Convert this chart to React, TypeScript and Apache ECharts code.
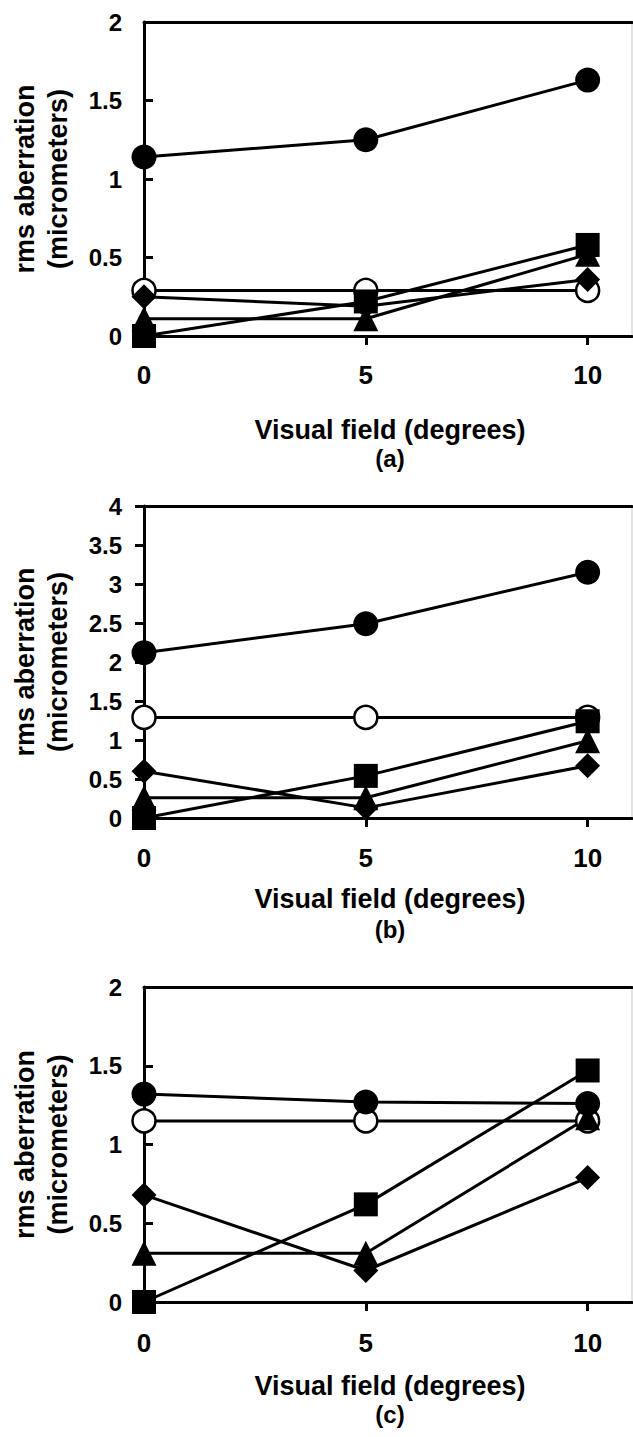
import React, { useEffect, useRef } from "react";
import * as echarts from "echarts";

// ---- data ----
const xValues = [0, 5, 10];
const xTickValues = [0, 5, 10];

// Panel (a)
const aFilledCircle = [1.14, 1.25, 1.63];
const aOpenCircle = [0.29, 0.29, 0.29];
const aSquare = [0, 0.22, 0.58];
const aTriangle = [0.11, 0.11, 0.52];
const aDiamond = [0.25, 0.19, 0.36];

// Panel (b)
const bFilledCircle = [2.12, 2.49, 3.15];
const bOpenCircle = [1.29, 1.29, 1.29];
const bSquare = [0, 0.54, 1.24];
const bTriangle = [0.26, 0.26, 0.99];
const bDiamond = [0.6, 0.13, 0.67];

// Panel (c)
const cFilledCircle = [1.32, 1.27, 1.26];
const cOpenCircle = [1.15, 1.15, 1.15];
const cSquare = [0, 0.62, 1.47];
const cTriangle = [0.31, 0.31, 1.17];
const cDiamond = [0.68, 0.2, 0.79];

const panelLabels = ["(a)", "(b)", "(c)"];
const yMax = [2, 4, 2];
const yTicksInside = [true, false, true];
const xTitle = "Visual field (degrees)";
const yTitle1 = "rms aberration";
const yTitle2 = "(micrometers)";

const FONT = '"Liberation Sans", Arial, Helvetica, sans-serif';

const panels = [
  { filled: aFilledCircle, open: aOpenCircle, square: aSquare, tri: aTriangle, dia: aDiamond },
  { filled: bFilledCircle, open: bOpenCircle, square: bSquare, tri: bTriangle, dia: bDiamond },
  { filled: cFilledCircle, open: cOpenCircle, square: cSquare, tri: cTriangle, dia: cDiamond },
];

// layout (pixels)
const grids = [
  { top: 22, height: 314 },
  { top: 506, height: 312 },
  { top: 987, height: 315 },
];
const xTitleY = [430, 899, 1386];
const panelLabelY = [458, 929, 1414];
const xLabelMargin = [26, 27, 28];

export default function App() {
  const ref = useRef<HTMLDivElement>(null);

  useEffect(() => {
    document.body.style.margin = "0";
    if (!ref.current) return;
    const chart = echarts.init(ref.current, undefined, { renderer: "svg" });

    const grid = grids.map((g) => ({
      left: 144,
      width: 488,
      top: g.top,
      height: g.height,
      show: true,
      borderColor: "#c8c8c8",
      borderWidth: 1,
      backgroundColor: "transparent",
    }));

    const xAxis: any[] = [];
    const yAxis: any[] = [];
    grids.forEach((_, i) => {
      xAxis.push({
        type: "value",
        gridIndex: i,
        position: "bottom",
        min: 0,
        max: 11,
        interval: 5,
        axisLine: { show: true, onZero: false, lineStyle: { color: "#000", width: 3 } },
        axisTick: {
          show: true,
          inside: false,
          length: 9,
          lineStyle: { color: "#000", width: 3 },
          customValues: xTickValues,
        },
        axisLabel: {
          customValues: xTickValues,
          margin: xLabelMargin[i],
          fontSize: 26,
          fontWeight: "bold",
          color: "#000",
          fontFamily: FONT,
        },
        splitLine: { show: false },
      });
      xAxis.push({
        type: "value",
        gridIndex: i,
        position: "top",
        min: 0,
        max: 11,
        axisLine: { show: true, onZero: false, lineStyle: { color: "#000", width: 3 } },
        axisTick: { show: false },
        axisLabel: { show: false },
        splitLine: { show: false },
      });
      yAxis.push({
        type: "value",
        gridIndex: i,
        min: 0,
        max: yMax[i],
        interval: 0.5,
        axisLine: { show: true, onZero: false, lineStyle: { color: "#000", width: 3 } },
        axisTick: {
          show: true,
          inside: yTicksInside[i],
          length: 9,
          lineStyle: { color: "#000", width: 3 },
        },
        axisLabel: {
          margin: 22,
          fontSize: 24,
          fontWeight: "bold",
          color: "#000",
          fontFamily: FONT,
        },
        splitLine: { show: false },
      });
    });

    const mk = (vals: number[]) => xValues.map((x, j) => [x, vals[j]]);
    const lineStyle = { color: "#000", width: 3 };
    const series: any[] = [];
    panels.forEach((p, i) => {
      const common = {
        type: "line",
        xAxisIndex: i * 2,
        yAxisIndex: i,
        clip: false,
        silent: true,
        showAllSymbol: true,
        lineStyle,
      };
      series.push({
        ...common,
        name: "open circle",
        data: mk(p.open),
        symbol: "circle",
        symbolSize: 23,
        itemStyle: { color: "#fff", borderColor: "#000", borderWidth: 2.5 },
      });
      series.push({
        ...common,
        name: "filled circle",
        data: mk(p.filled),
        symbol: "circle",
        symbolSize: 25,
        itemStyle: { color: "#000", borderWidth: 0 },
      });
      series.push({
        ...common,
        name: "square",
        data: mk(p.square),
        symbol: "rect",
        symbolSize: 24,
        itemStyle: { color: "#000", borderWidth: 0 },
      });
      series.push({
        ...common,
        name: "triangle",
        data: mk(p.tri),
        symbol: "triangle",
        symbolSize: 25,
        itemStyle: { color: "#000", borderWidth: 0 },
      });
      series.push({
        ...common,
        name: "diamond",
        data: mk(p.dia),
        symbol: "diamond",
        symbolSize: 25,
        itemStyle: { color: "#000", borderWidth: 0 },
      });
    });

    const textStyleBase = {
      fill: "#000",
      fontFamily: FONT,
      fontWeight: "bold",
      textAlign: "center",
      textVerticalAlign: "middle",
    };
    const graphic: any[] = [];
    grids.forEach((g, i) => {
      const cy = g.top + g.height / 2;
      graphic.push({
        type: "text",
        x: 390,
        y: xTitleY[i],
        style: { ...textStyleBase, text: xTitle, fontSize: 27 },
      });
      graphic.push({
        type: "text",
        x: 390,
        y: panelLabelY[i],
        style: { ...textStyleBase, text: panelLabels[i], fontSize: 24 },
      });
      graphic.push({
        type: "text",
        x: 25,
        y: cy,
        rotation: Math.PI / 2,
        style: { ...textStyleBase, text: yTitle1, fontSize: 27 },
      });
      graphic.push({
        type: "text",
        x: 58,
        y: cy,
        rotation: Math.PI / 2,
        style: { ...textStyleBase, text: yTitle2, fontSize: 27 },
      });
    });

    chart.setOption({
      animation: false,
      backgroundColor: "#fff",
      grid,
      xAxis,
      yAxis,
      series,
      graphic,
    });

    return () => chart.dispose();
  }, []);

  return (
    <div
      ref={ref}
      style={{ position: "absolute", left: 0, top: 0, width: 633, height: 1437 }}
    />
  );
}
